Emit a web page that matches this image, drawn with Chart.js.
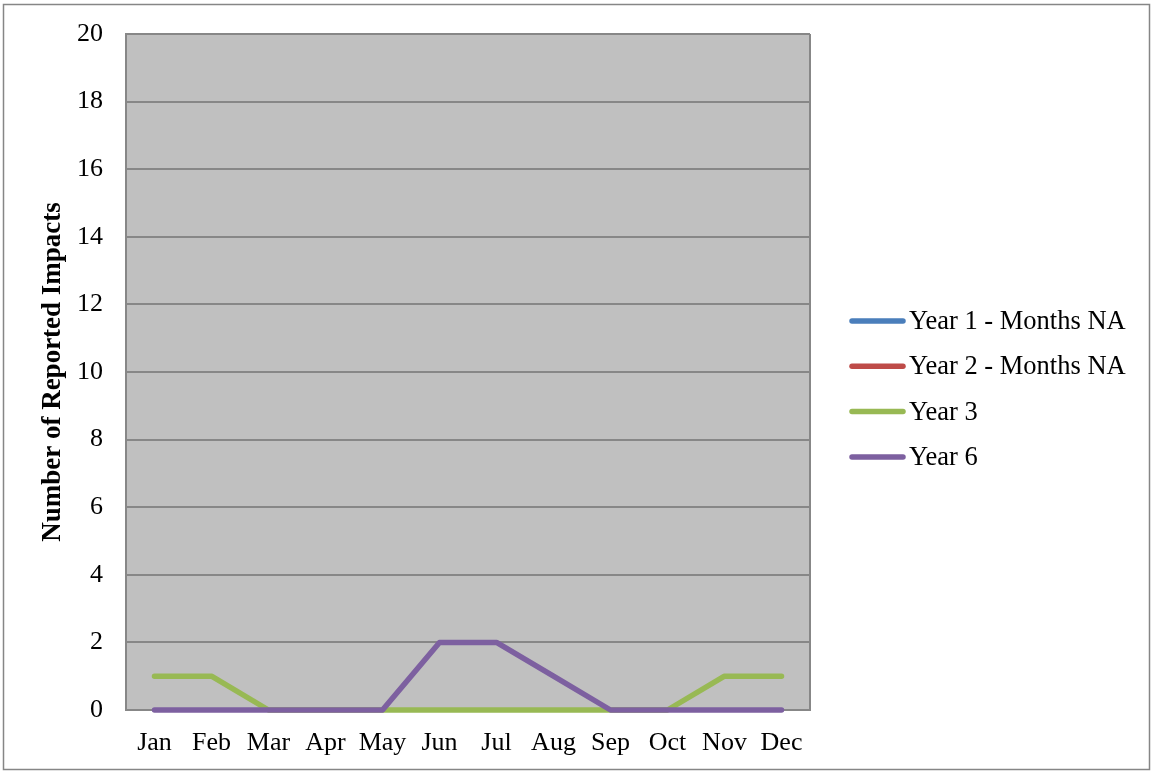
<!DOCTYPE html>
<html>
<head>
<meta charset="utf-8">
<script src="https://cdn.jsdelivr.net/npm/chart.js@4/dist/chart.umd.min.js"></script>
<style>
  body { margin: 0; background: #fff; }
  #wrap { width: 1151px; height: 771px; }
</style>
</head>
<body>
<div id="wrap"><canvas id="myChart" width="1151" height="771"></canvas></div>
<script>
// months on the x axis
const months = ["Jan", "Feb", "Mar", "Apr", "May", "Jun", "Jul", "Aug", "Sep", "Oct", "Nov", "Dec"];
// reported impacts per month (null = months not available)
const year1 = [null, null, null, null, null, null, null, null, null, null, null, null];
const year2 = [null, null, null, null, null, null, null, null, null, null, null, null];
const year3 = [1, 1, 0, 0, 0, 0, 0, 0, 0, 0, 1, 1];
const year6 = [0, 0, 0, 0, 0, 2, 2, 1, 0, 0, 0, 0];
const yTicks = [0, 2, 4, 6, 8, 10, 12, 14, 16, 18, 20];

const serif = "'Liberation Serif', 'Times New Roman', serif";
const gridGray = "#878787";

function line(label, data, color, order) {
  return {
    label: label,
    data: data,
    borderColor: color,
    backgroundColor: color,
    borderWidth: 5.5,
    borderCapStyle: "round",
    borderJoinStyle: "round",
    pointRadius: 0,
    pointHoverRadius: 0,
    tension: 0,
    clip: false,
    order: order,
  };
}

// white page, grey frame, grey plot area
const framePlugin = {
  id: "frame",
  beforeDraw(chart) {
    const c = chart.ctx;
    const a = chart.chartArea;
    c.save();
    c.fillStyle = "#fff";
    c.fillRect(0, 0, chart.width, chart.height);
    c.strokeStyle = "#868686";
    c.lineWidth = 1.5;
    c.strokeRect(3.5, 4.5, chart.width - 5, chart.height - 6);
    c.fillStyle = "#c0c0c0";
    c.fillRect(a.left, a.top, a.right - a.left, a.bottom - a.top);
    c.strokeStyle = gridGray;
    c.lineWidth = 2;
    c.beginPath();
    c.moveTo(a.right, a.top);
    c.lineTo(a.right, a.bottom);
    c.stroke();
    c.restore();
  },
};

// legend on the right: short line + series name
const sideLegend = {
  id: "sideLegend",
  afterDraw(chart) {
    const c = chart.ctx;
    const x0 = chart.chartArea.right + 40;
    const y0 = 321;
    const step = 45.3;
    c.save();
    c.font = "26.5px " + serif;
    c.textBaseline = "middle";
    c.textAlign = "left";
    chart.data.datasets.forEach(function (ds, i) {
      const y = y0 + i * step;
      c.strokeStyle = ds.borderColor;
      c.lineWidth = ds.borderWidth;
      c.lineCap = "round";
      c.beginPath();
      c.moveTo(x0 + 2, y);
      c.lineTo(x0 + 53, y);
      c.stroke();
      c.fillStyle = "#000";
      c.fillText(ds.label, x0 + 59, y + 1);
    });
    c.restore();
  },
};

const ctx = document.getElementById("myChart").getContext("2d");
const myChart = new Chart(ctx, {
  type: "line",
  data: {
    labels: months,
    datasets: [
      line("Year 1 - Months NA", year1, "#4a7ebb", 1),
      line("Year 2 - Months NA", year2, "#be4b48", 1),
      line("Year 3", year3, "#98b954", 1),
      line("Year 6", year6, "#7d60a0", 0),
    ],
  },
  options: {
    responsive: false,
    animation: false,
    layout: {
      padding: { top: 34, right: 341, bottom: 0, left: 37 },
    },
    plugins: {
      tooltip: { enabled: false },
      legend: { display: false },
    },
    scales: {
      x: {
        type: "category",
        offset: true,
        grid: { display: false, drawTicks: false },
        border: { color: gridGray, width: 2 },
        ticks: {
          color: "#000",
          padding: 18,
          maxRotation: 0,
          autoSkip: false,
          font: { family: serif, size: 26 },
        },
        afterFit(scale) {
          scale.height = 61;
        },
      },
      y: {
        min: 0,
        max: 20,
        afterBuildTicks(scale) {
          scale.ticks = yTicks.map((v) => ({ value: v }));
        },
        grid: { color: gridGray, lineWidth: 2, drawTicks: false },
        border: { color: gridGray, width: 2 },
        ticks: {
          color: "#000",
          padding: 23,
          font: { family: serif, size: 26 },
        },
        title: {
          display: true,
          text: "Number of Reported Impacts",
          color: "#000",
          padding: { top: 0, bottom: 0 },
          font: { family: serif, size: 27, weight: "bold" },
        },
        afterFit(scale) {
          scale.width = 89;
          scale.paddingTop = 0;
        },
      },
    },
  },
  plugins: [framePlugin, sideLegend],
});
</script>
</body>
</html>
